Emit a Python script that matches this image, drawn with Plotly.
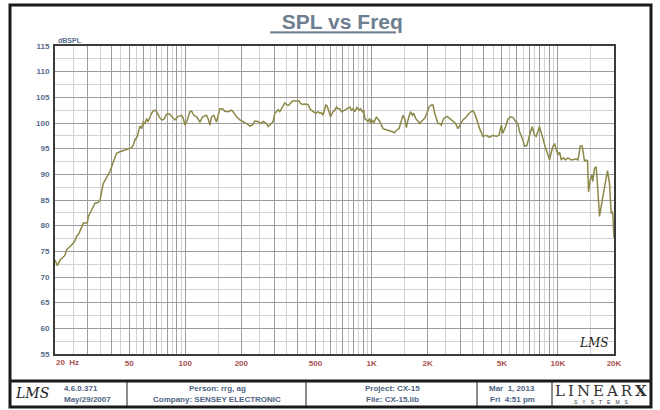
import plotly.graph_objects as go

# ---------------- data ----------------
freq_hz = [20, 20.6, 21.3, 22.2, 22.6, 23.1, 24.1, 25.1, 25.6, 26.1,
           26.9, 27.8, 28.4, 29.8, 30.2, 31.5, 32.8, 34.1, 34.9, 36.3,
           37.9, 39.4, 41.1, 42.8, 44.6, 48.5, 51.6, 52.6, 53.7, 55.2,
           56.4, 57.1, 58.3, 59.5, 60.8, 62.0, 63.0, 64.6, 66.0, 67.3,
           68.7, 70.2, 72.5, 74.7, 76.8, 79.4, 82.0, 84.5, 88.0, 91.7,
           95.6, 97.5, 99.5, 101.7, 105.9, 108.2, 111.3, 115.1, 119.9, 123.9,
           127.4, 130.1, 132.7, 135.6, 138.4, 142.4, 147.2, 153.4, 158.6, 163.1,
           169.9, 177.2, 180.7, 188.5, 196.3, 204.5, 213.2, 222.2, 229.7, 236.3,
           246.1, 253.6, 261.8, 273.0, 278.4, 290.3, 296.2, 302.5, 308.9, 315.1,
           321.7, 328.6, 335.2, 342.3, 349.6, 356.5, 364.0, 376.3, 395.4, 408.3,
           415.4, 425.8, 438.0, 456.2, 470.0, 485.3, 501.7, 516.2, 527.2, 538.3,
           549.1, 567.8, 577.0, 591.4, 601.7, 621.2, 634.4, 648.0, 660.8, 675.0,
           689.3, 717.8, 747.7, 763.6, 779.8, 795.4, 812.2, 835.5, 856.4, 871.3,
           893.2, 907.6, 919.0, 938.5, 957.2, 977.4, 989.6, 1011, 1027, 1062,
           1106, 1152, 1201, 1251, 1294, 1331, 1359, 1404, 1446, 1475,
           1506, 1538, 1569, 1616, 1656, 1682, 1725, 1774, 1812, 1850,
           1927, 1983, 2032, 2093, 2136, 2181, 2227, 2272, 2320, 2369,
           2436, 2538, 2624, 2734, 2826, 2908, 2995, 3093, 3226, 3360,
           3500, 3573, 3676, 3800, 3959, 4129, 4300, 4479, 4671, 4824,
           4970, 5068, 5238, 5390, 5552, 5734, 5926, 6098, 6226, 6440,
           6626, 6816, 7046, 7284, 7494, 7652, 7970, 8142, 8302, 8584,
           8832, 9020, 9212, 9394, 9594, 9798, 9992, 10204, 10420, 10720,
           10990, 11306, 11792, 12544, 12794, 12954, 13180, 13508, 13728, 13896,
           14192, 14420, 14600, 14910, 15206, 15394, 15720, 16056, 16374, 16724,
           17420, 18166, 18460, 18922, 19320, 19558, 19708, 20000]

spl_db = [73.3, 72.2, 73.3, 74.0, 74.2, 75.3, 75.9, 76.6, 77.1, 77.9,
          78.5, 79.8, 80.5, 80.5, 81.8, 83.1, 84.4, 84.5, 85.0, 88.2,
          89.5, 90.5, 92.4, 94.1, 94.4, 94.9, 95.2, 95.7, 96.7, 97.3,
          98.9, 99.4, 98.9, 100.2, 99.9, 100.9, 100.2, 101.2, 101.9, 102.4,
          102.5, 102.2, 101.2, 100.6, 100.7, 101.7, 101.8, 101.3, 100.6, 101.3,
          101.5, 101.0, 99.6, 100.2, 102.2, 102.3, 101.5, 101.2, 100.2, 101.2,
          101.3, 101.5, 100.8, 99.6, 101.2, 101.5, 100.2, 102.8, 102.8, 102.3,
          102.2, 102.5, 102.2, 101.2, 100.6, 100.3, 99.9, 99.4, 99.6, 100.4,
          100.3, 99.9, 100.3, 99.9, 99.3, 99.9, 100.3, 101.9, 102.2, 102.6,
          102.2, 102.8, 103.1, 103.9, 103.6, 103.4, 103.7, 104.3, 104.3, 104.3,
          103.8, 103.6, 103.7, 103.6, 102.6, 102.2, 101.9, 102.2, 101.9, 102.0,
          101.5, 103.5, 103.3, 102.2, 101.2, 102.2, 102.5, 103.1, 102.8, 102.8,
          102.2, 102.5, 102.8, 103.1, 102.5, 102.8, 102.2, 103.1, 102.5, 102.8,
          102.2, 102.5, 100.9, 100.6, 100.3, 100.9, 99.9, 100.6, 100.0, 101.2,
          100.3, 98.9, 98.7, 98.6, 98.3, 98.1, 98.6, 98.9, 100.6, 101.5,
          100.9, 99.1, 100.6, 102.2, 101.5, 101.9, 100.9, 100.3, 99.9, 100.3,
          100.9, 101.9, 103.1, 103.5, 103.5, 101.9, 100.6, 99.9, 99.9, 99.6,
          100.9, 101.3, 100.9, 100.3, 99.9, 98.9, 99.6, 100.6, 101.2, 102.0,
          102.4, 101.9, 100.6, 98.9, 97.4, 97.6, 97.2, 97.6, 97.4, 97.6,
          99.6, 98.0, 99.3, 100.7, 101.2, 101.1, 100.3, 99.9, 98.3, 97.0,
          95.5, 95.6, 97.6, 99.3, 97.6, 97.4, 99.3, 98.0, 96.7, 95.1,
          93.8, 92.8, 94.3, 95.4, 96.0, 94.8, 93.8, 94.3, 92.9, 93.2,
          92.8, 93.2, 92.8, 93.0, 92.8, 93.8, 95.5, 95.5, 94.1, 92.5,
          92.8, 92.6, 86.6, 88.9, 89.9, 88.6, 91.2, 91.4, 87.0, 81.8,
          85.6, 89.5, 90.7, 88.2, 82.4, 82.8, 82.2, 77.6]

y_ticks = list(range(55, 116, 5))
x_major_grid = ([20, 30, 40, 50, 60, 70, 80, 90] +
                [100, 200, 300, 400, 500, 600, 700, 800, 900] +
                [1000, 2000, 3000, 4000, 5000, 6000, 7000, 8000, 9000] +
                [10000, 20000])
x_minor_grid = ([25, 35, 45, 55, 65, 75, 85, 95] +
                [150, 250, 350, 450, 550, 650, 750, 850, 950] +
                [1500, 2500, 3500, 4500, 5500, 6500, 7500, 8500, 9500] +
                [15000])
x_labels = {50: "50", 100: "100", 200: "200", 500: "500", 1000: "1K",
            2000: "2K", 5000: "5K", 10000: "10K", 20000: "20K"}

# ---------------- layout helpers (pixel -> paper) ----------------
W, H = 660, 410
L, R, T, B = 55, 46, 46, 56
PW, PH = W - L - R, H - T - B


def px(x):
    return (x - L) / PW


def py(y):
    return (H - B - y) / PH


TXT = "Liberation Sans, Arial, sans-serif"
SLATE = "#566b8c"
RED = "#a9504f"

fig = go.Figure()
fig.add_trace(go.Scatter(x=freq_hz, y=spl_db, mode="lines",
                         line=dict(color="#8c8848", width=1.5),
                         hoverinfo="skip", showlegend=False))

fig.update_layout(
    width=W, height=H,
    margin=dict(l=L, r=R, t=T, b=B),
    paper_bgcolor="white", plot_bgcolor="white",
    showlegend=False,
    title=dict(text="<b><u>\u00a0\u00a0SPL vs Freq</u></b>", x=px(340), xanchor="center",
               y=1 - 22 / H, yanchor="middle",
               font=dict(family=TXT, size=21, color="#6d7e91")),
    xaxis=dict(type="log", range=[1.30103, 4.30103],
               tickmode="array", tickvals=x_major_grid,
               ticktext=[("<b>" + x_labels[v] + "</b>") if v in x_labels else ""
                         for v in x_major_grid],
               showgrid=True, gridcolor="#9c9c9c", gridwidth=1,
               minor=dict(tickmode="array", tickvals=x_minor_grid,
                          showgrid=True, gridcolor="#d2d2d2", gridwidth=1),
               ticks="", showline=True, mirror=True, linecolor="#3c3c3c", linewidth=2,
               tickfont=dict(family=TXT, size=8, color=RED),
               zeroline=False),
    yaxis=dict(range=[55, 115], tickmode="array", tickvals=y_ticks,
               ticktext=["<b>%d</b>" % v for v in y_ticks],
               showgrid=True, gridcolor="#9c9c9c", gridwidth=1,
               minor=dict(dtick=2.5, showgrid=True, gridcolor="#d2d2d2", gridwidth=1),
               ticks="", showline=True, mirror=True, linecolor="#3c3c3c", linewidth=2,
               tickfont=dict(family=TXT, size=8, color=SLATE),
               ticklabelstandoff=2, zeroline=False),
)

ann = []


def note(x, y, text, font, xanchor="center"):
    ann.append(dict(xref="paper", yref="paper", x=px(x), y=py(y), text=text,
                    showarrow=False, xanchor=xanchor, yanchor="middle", font=font))


# axis extras
note(56, 40, "<b>dBSPL</b>", dict(family=TXT, size=7, color=SLATE), "left")
note(54, 362, "<b>20  Hz</b>", dict(family=TXT, size=8, color=RED), "left")
# LMS signature inside plot
note(593, 343, "<i>LMS</i>", dict(family="DejaVu Serif", size=12, color="#222222"))

# footer
note(32, 393, "<i>LMS</i>", dict(family="DejaVu Serif", size=14, color="#222222"))
foot_font = dict(family=TXT, size=8, color="#4d6282")
foot = [(62, 389, "4.6.0.371", "left"), (62, 399, "May/29/2007", "left"),
        (217, 389, "Person: rrg, ag", "center"),
        (217, 399, "Company: SENSEY ELECTRONIC", "center"),
        (392, 389, "Project: CX-15", "center"),
        (392, 399, "File: CX-15.lib", "center"),
        (512, 389, "Mar  1, 2013", "center"),
        (512, 399, "Fri  4:51 pm", "center")]
for fx, fy, t, a in foot:
    note(fx, fy, "<b>" + t + "</b>", foot_font, a)
note(601, 391, "L\u2009I\u2009N\u2009E\u2009A\u2009R\u2009<b>X</b>",
     dict(family="DejaVu Serif", size=15, color="#333333"))
note(601, 402, "S\u2003Y\u2003S\u2003T\u2003E\u2003M\u2003S",
     dict(family=TXT, size=5, color="#333333"))

shapes = []
# outer frame
shapes.append(dict(type="rect", xref="paper", yref="paper",
                   x0=px(10), x1=px(651), y0=py(407), y1=py(5),
                   line=dict(color="#1a1a1a", width=3), layer="below"))
# footer top rule
shapes.append(dict(type="line", xref="paper", yref="paper",
                   x0=px(10), x1=px(651), y0=py(381), y1=py(381),
                   line=dict(color="#1a1a1a", width=3)))
for sx in [127, 306, 477, 552]:
    shapes.append(dict(type="line", xref="paper", yref="paper",
                       x0=px(sx), x1=px(sx), y0=py(381), y1=py(407),
                       line=dict(color="#1a1a1a", width=1)))

fig.update_layout(annotations=ann, shapes=shapes)
fig.write_html("out.html", config={"displayModeBar": False},
               post_script="document.body.style.margin='0';document.body.style.overflow='hidden';")
